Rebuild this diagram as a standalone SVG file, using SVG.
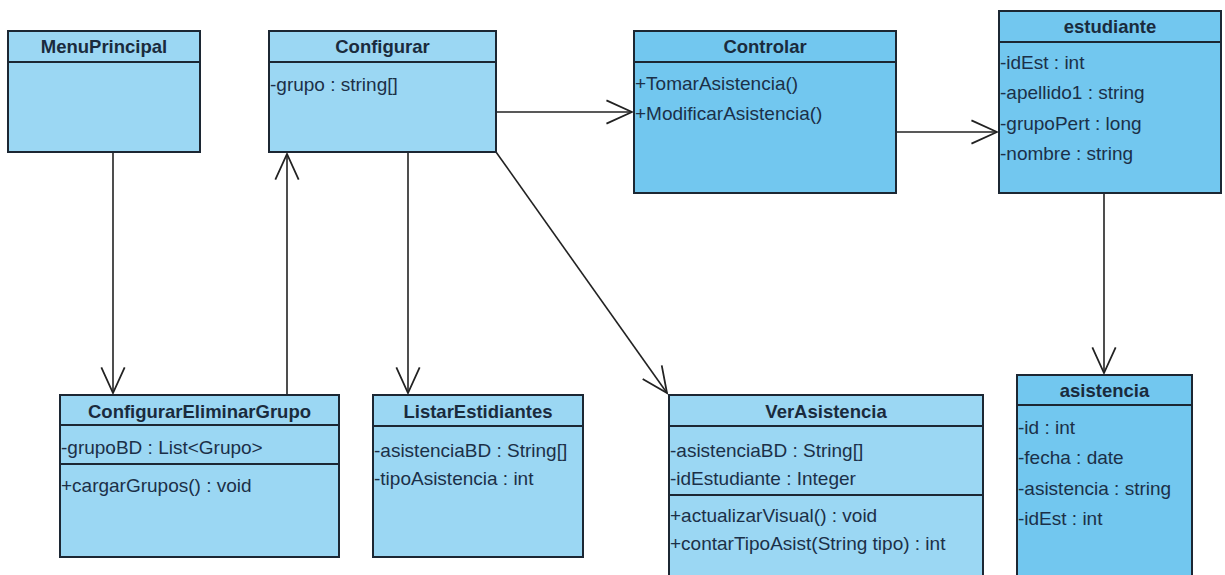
<svg xmlns="http://www.w3.org/2000/svg" width="1225" height="575" viewBox="0 0 1225 575">
<style>
.box{stroke:#1c2733;stroke-width:2}
.light{fill:#9bd7f3}
.dark{fill:#72c7ef}
.div{stroke:#1c2733;stroke-width:2}
.title{font-family:"Liberation Sans",Arial,sans-serif;font-weight:bold;font-size:18.5px;fill:#1a2b3d;text-anchor:middle}
.txt{font-family:"Liberation Sans",Arial,sans-serif;font-size:19px;fill:#1b3048}
.conn{stroke:#222;stroke-width:1.6;fill:none;marker-end:url(#open)}
</style>
<defs>
<marker id="open" markerUnits="userSpaceOnUse" markerWidth="30" markerHeight="30" viewBox="-25 -12 27 24" refX="0" refY="0" orient="auto">
<path d="M-23,-10.5 L0,0 L-23,10.5" fill="none" stroke="#222" stroke-width="1.6"/>
</marker>
</defs>
<rect width="1225" height="575" fill="#ffffff"/>

<g id="connectors">
<line class="conn" x1="113" y1="152" x2="113" y2="393"/>
<line class="conn" x1="287" y1="395" x2="287" y2="154"/>
<line class="conn" x1="408" y1="152" x2="408" y2="393"/>
<line class="conn" x1="496" y1="152" x2="667" y2="393"/>
<line class="conn" x1="496" y1="112" x2="632" y2="112"/>
<line class="conn" x1="896" y1="132" x2="997" y2="132"/>
<line class="conn" x1="1104" y1="193" x2="1104" y2="373"/>
</g>

<g id="MenuPrincipal">
<rect class="box light" x="8" y="31" width="192" height="121"/>
<line class="div" x1="8" y1="62" x2="200" y2="62"/>
<text class="title" x="104" y="53">MenuPrincipal</text>
</g>

<g id="Configurar">
<rect class="box light" x="269" y="31" width="227" height="121"/>
<line class="div" x1="269" y1="62" x2="496" y2="62"/>
<text class="title" x="382.5" y="53">Configurar</text>
<text class="txt" x="270" y="91">-grupo : string[]</text>
</g>

<g id="Controlar">
<rect class="box dark" x="634" y="31" width="262" height="162"/>
<line class="div" x1="634" y1="62" x2="896" y2="62"/>
<text class="title" x="765" y="53">Controlar</text>
<text class="txt" x="635" y="89.5">+TomarAsistencia()</text>
<text class="txt" x="635" y="119.5">+ModificarAsistencia()</text>
</g>

<g id="estudiante">
<rect class="box dark" x="999" y="11" width="222" height="182"/>
<line class="div" x1="999" y1="42" x2="1221" y2="42"/>
<text class="title" x="1110" y="33">estudiante</text>
<text class="txt" x="1000" y="68.5">-idEst : int</text>
<text class="txt" x="1000" y="98.5">-apellido1 : string</text>
<text class="txt" x="1000" y="129.5">-grupoPert : long</text>
<text class="txt" x="1000" y="159.5">-nombre : string</text>
</g>

<g id="ConfigurarEliminarGrupo">
<rect class="box light" x="60" y="395" width="279" height="162"/>
<line class="div" x1="60" y1="425" x2="339" y2="425"/>
<line class="div" x1="60" y1="464" x2="339" y2="464"/>
<text class="title" x="199.5" y="417.5">ConfigurarEliminarGrupo</text>
<text class="txt" x="61" y="453.5">-grupoBD : List&lt;Grupo&gt;</text>
<text class="txt" x="61" y="491.5">+cargarGrupos() : void</text>
</g>

<g id="ListarEstidiantes">
<rect class="box light" x="373" y="395" width="210" height="162"/>
<line class="div" x1="373" y1="426" x2="583" y2="426"/>
<text class="title" x="478" y="418">ListarEstidiantes</text>
<text class="txt" x="374" y="456.5">-asistenciaBD : String[]</text>
<text class="txt" x="374" y="484.5">-tipoAsistencia : int</text>
</g>

<g id="VerAsistencia">
<rect class="box light" x="669" y="395" width="314" height="190"/>
<line class="div" x1="669" y1="426" x2="983" y2="426"/>
<line class="div" x1="669" y1="495" x2="983" y2="495"/>
<text class="title" x="826" y="418">VerAsistencia</text>
<text class="txt" x="670" y="456.5">-asistenciaBD : String[]</text>
<text class="txt" x="670" y="484.5">-idEstudiante : Integer</text>
<text class="txt" x="670" y="521.5">+actualizarVisual() : void</text>
<text class="txt" x="670" y="549.5">+contarTipoAsist(String tipo) : int</text>
</g>

<g id="asistencia">
<rect class="box dark" x="1017" y="375" width="175" height="210"/>
<line class="div" x1="1017" y1="405" x2="1192" y2="405"/>
<text class="title" x="1104.5" y="397">asistencia</text>
<text class="txt" x="1018" y="433.5">-id : int</text>
<text class="txt" x="1018" y="463.5">-fecha : date</text>
<text class="txt" x="1018" y="494.5">-asistencia : string</text>
<text class="txt" x="1018" y="524.5">-idEst : int</text>
</g>
</svg>
